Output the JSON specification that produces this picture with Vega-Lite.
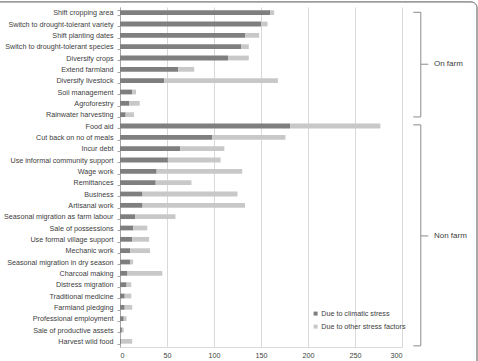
{
  "$schema": "https://vega.github.io/schema/vega-lite/v6.json",
  "autosize": {"type": "none"},
  "width": 282,
  "height": 340,
  "padding": {"left": 120, "top": 7, "right": 76, "bottom": 14},
  "background": "white",
  "config": {
    "view": {"stroke": null},
    "font": "Liberation Sans",
    "text": {"font": "Liberation Sans"}
  },
  "datasets": {
    "main": [
      {"strategy": "Shift cropping area", "Due to climatic stress": 160, "Due to other stress factors": 4},
      {"strategy": "Switch to drought-tolerant variety", "Due to climatic stress": 150, "Due to other stress factors": 7},
      {"strategy": "Shift planting dates", "Due to climatic stress": 133, "Due to other stress factors": 15},
      {"strategy": "Switch to drought-tolerant species", "Due to climatic stress": 129, "Due to other stress factors": 8},
      {"strategy": "Diversify crops", "Due to climatic stress": 115, "Due to other stress factors": 22},
      {"strategy": "Extend farmland", "Due to climatic stress": 62, "Due to other stress factors": 17},
      {"strategy": "Diversify livestock", "Due to climatic stress": 47, "Due to other stress factors": 121},
      {"strategy": "Soil management", "Due to climatic stress": 13, "Due to other stress factors": 4},
      {"strategy": "Agroforestry", "Due to climatic stress": 10, "Due to other stress factors": 11},
      {"strategy": "Rainwater harvesting", "Due to climatic stress": 6, "Due to other stress factors": 9},
      {"strategy": "Food aid", "Due to climatic stress": 181, "Due to other stress factors": 96},
      {"strategy": "Cut back on no of meals", "Due to climatic stress": 98, "Due to other stress factors": 78},
      {"strategy": "Incur debt", "Due to climatic stress": 64, "Due to other stress factors": 47},
      {"strategy": "Use informal community support", "Due to climatic stress": 51, "Due to other stress factors": 56},
      {"strategy": "Wage work", "Due to climatic stress": 39, "Due to other stress factors": 91},
      {"strategy": "Remittances", "Due to climatic stress": 38, "Due to other stress factors": 38},
      {"strategy": "Business", "Due to climatic stress": 24, "Due to other stress factors": 101},
      {"strategy": "Artisanal work", "Due to climatic stress": 24, "Due to other stress factors": 109},
      {"strategy": "Seasonal migration as farm labour", "Due to climatic stress": 16, "Due to other stress factors": 43},
      {"strategy": "Sale of possessions", "Due to climatic stress": 14, "Due to other stress factors": 15},
      {"strategy": "Use formal village support", "Due to climatic stress": 13, "Due to other stress factors": 18},
      {"strategy": "Mechanic work", "Due to climatic stress": 11, "Due to other stress factors": 21},
      {"strategy": "Seasonal migration in dry season", "Due to climatic stress": 11, "Due to other stress factors": 3},
      {"strategy": "Charcoal making", "Due to climatic stress": 8, "Due to other stress factors": 37},
      {"strategy": "Distress migration", "Due to climatic stress": 7, "Due to other stress factors": 5},
      {"strategy": "Traditional medicine", "Due to climatic stress": 5, "Due to other stress factors": 7},
      {"strategy": "Farmland pledging", "Due to climatic stress": 5, "Due to other stress factors": 8},
      {"strategy": "Professional employment", "Due to climatic stress": 4, "Due to other stress factors": 3},
      {"strategy": "Sale of productive assets", "Due to climatic stress": 2, "Due to other stress factors": 2},
      {"strategy": "Harvest wild food", "Due to climatic stress": 1, "Due to other stress factors": 12}
    ],
    "groups": [
      {"group": "On farm", "top": 0.47, "mid": 5.05, "bottom": 9.7},
      {"group": "Non farm", "top": 10.4, "mid": 20.2, "bottom": 29.9}
    ]
  },
  "layer": [
    {
      "data": {"name": "main"},
      "transform": [
        {"fold": ["Due to climatic stress", "Due to other stress factors"], "as": ["cause", "count"]}
      ],
      "mark": {"type": "bar"},
      "encoding": {
        "y": {
          "field": "strategy", "type": "nominal", "sort": null,
          "scale": {"paddingInner": 0.58, "paddingOuter": 0.29},
          "axis": {"title": null, "labelFontSize": 7.2, "labelColor": "#404040", "domainColor": "#a6a6a6", "tickColor": "#a6a6a6", "tickSize": 3, "labelPadding": 4, "tickBand": "extent", "labelFont": "Liberation Sans"}
        },
        "x": {
          "field": "count", "type": "quantitative", "stack": "zero",
          "scale": {"domain": [0, 300], "nice": false},
          "axis": {"title": null, "values": [0, 50, 100, 150, 200, 250, 300], "grid": true, "gridColor": "#d9d9d9", "domainColor": "#d9d9d9", "ticks": false, "labelFontSize": 7.2, "labelColor": "#404040", "labelPadding": 4, "labelFont": "Liberation Sans"}
        },
        "color": {
          "field": "cause", "type": "nominal",
          "scale": {"domain": ["Due to climatic stress", "Due to other stress factors"], "range": ["#7f7f7f", "#c8c8c8"]},
          "legend": {"title": null, "orient": "none", "legendX": 192, "legendY": 303, "symbolType": "square", "symbolSize": 16, "labelFontSize": 7.2, "labelColor": "#404040", "labelOffset": 2, "rowPadding": 5, "labelFont": "Liberation Sans", "symbolStrokeWidth": 0}
        },
        "order": {"field": "cause", "sort": "ascending"}
      }
    },
    {
      "data": {"name": "groups"},
      "layer": [
        {
          "mark": {"type": "rule", "color": "#8c8c8c", "strokeWidth": 1, "clip": false},
          "encoding": {
            "x": {"datum": 320},
            "y": {"field": "top", "type": "quantitative", "scale": {"domain": [0, 30], "nice": false, "zero": false, "reverse": true}, "axis": null},
            "y2": {"field": "bottom"}
          }
        },
        {
          "mark": {"type": "rule", "color": "#8c8c8c", "strokeWidth": 1, "clip": false},
          "encoding": {
            "x": {"datum": 312},
            "x2": {"datum": 320},
            "y": {"field": "top", "type": "quantitative"}
          }
        },
        {
          "mark": {"type": "rule", "color": "#8c8c8c", "strokeWidth": 1, "clip": false},
          "encoding": {
            "x": {"datum": 312},
            "x2": {"datum": 320},
            "y": {"field": "bottom", "type": "quantitative"}
          }
        },
        {
          "mark": {"type": "rule", "color": "#8c8c8c", "strokeWidth": 1, "clip": false},
          "encoding": {
            "x": {"datum": 320},
            "x2": {"datum": 328},
            "y": {"field": "mid", "type": "quantitative"}
          }
        },
        {
          "mark": {"type": "text", "align": "left", "baseline": "middle", "fontSize": 8, "color": "#404040", "clip": false},
          "encoding": {
            "x": {"datum": 334},
            "y": {"field": "mid", "type": "quantitative"},
            "text": {"field": "group"}
          }
        },
        {
          "mark": {"type": "rect", "fill": null, "fillOpacity": 0, "stroke": "#8c8c8c", "strokeWidth": 1, "cornerRadius": 6, "clip": false},
          "encoding": {
            "x": {"datum": -300},
            "x2": {"datum": 379.8},
            "y": {"datum": -0.45, "type": "quantitative"},
            "y2": {"datum": 45}
          }
        }
      ]
    }
  ],
  "resolve": {"scale": {"y": "independent"}}
}
